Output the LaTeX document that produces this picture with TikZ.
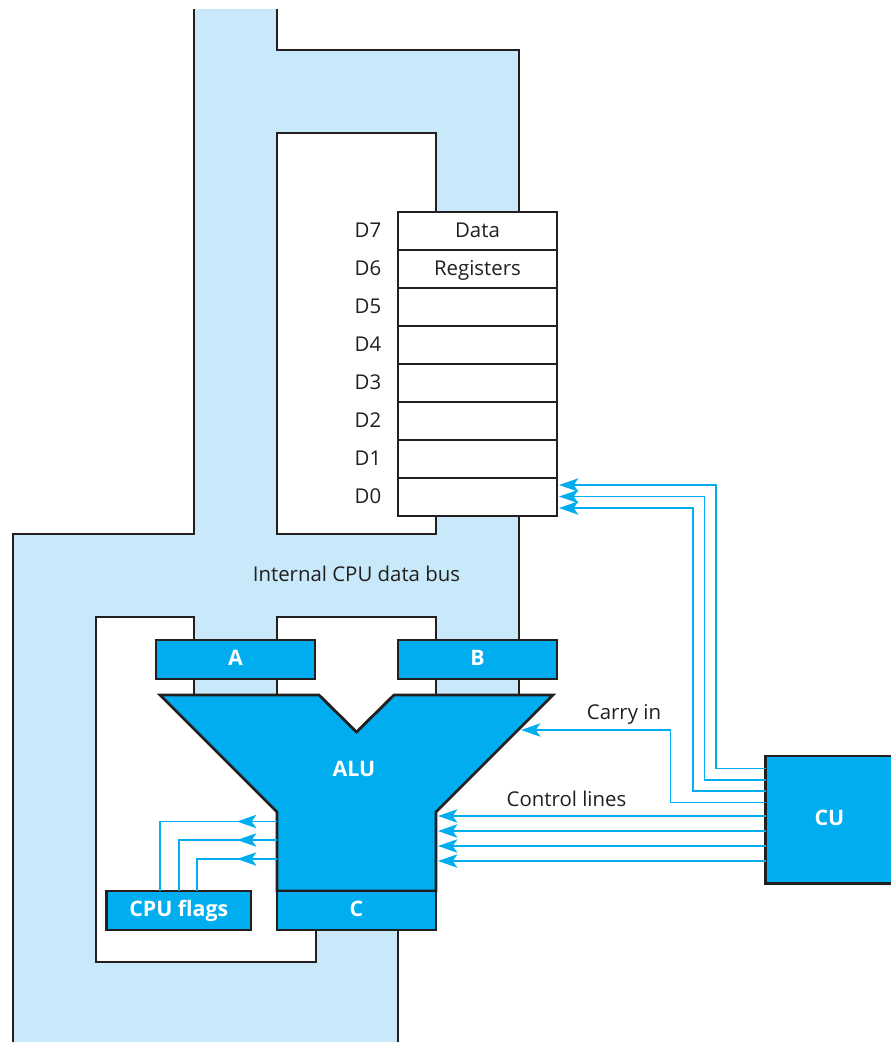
\documentclass[tikz,border=0pt]{standalone}
\usepackage{fontspec}
\setmainfont{Open Sans}
\usetikzlibrary{arrows.meta}
\definecolor{busblue}{HTML}{C7E9F9}
\definecolor{cyanfill}{HTML}{00AEEF}
\definecolor{inkline}{HTML}{231F20}
\tikzset{
  edge/.style={draw=inkline,line width=2.1pt,line join=miter},
  reg/.style={edge,fill=white,minimum width=119.25pt,minimum height=28.5pt,inner sep=0pt,outer sep=0pt,text height=11pt,text depth=1.5pt,font=\fontsize{15.3pt}{17pt}\selectfont,text=inkline},
  unitbox/.style={edge,fill=cyanfill,inner sep=0pt,outer sep=0pt,text=white,text height=11pt,text depth=2pt,font=\fontsize{16pt}{18pt}\selectfont\bfseries},
  lab/.style={inner sep=0pt,text=inkline,text height=11pt,text depth=3pt,font=\fontsize{15.3pt}{17pt}\selectfont},
  sig/.style={draw=cyanfill,line width=1.4pt,line join=miter},
  tip/.style={-{Stealth[length=14.5pt,width=10pt,inset=3.5pt,fill=cyanfill]}},
}
\begin{document}
\begin{tikzpicture}[x=0.75pt,y=-0.75pt]
\useasboundingbox (0,0) rectangle (890,1042);
% data bus
\fill[busblue] (194,9) -- (277,9) -- (277,50) -- (519,50) -- (519,694) -- (398,800) -- (398,1042) -- (13,1042) -- (13,534) -- (194,534) -- cycle;
\fill[white] (277,133) rectangle (436,534);
\fill[white] (96,617) -- (194,617) -- (194,694) -- (277,694) -- (277,930) -- (316,930) -- (316,962) -- (96,962) -- cycle;
\fill[white] (277,617) rectangle (436,740);
\draw[edge] (194,9) -- (194,534) -- (13,534) -- (13,1042);
\draw[edge] (277,9) -- (277,50) -- (519,50) -- (519,694);
\draw[edge] (436,212) -- (436,133) -- (277,133) -- (277,534) -- (436,534) -- (436,516);
\draw[edge] (194,694) -- (194,617) -- (96,617) -- (96,962) -- (316,962) -- (316,930);
\draw[edge] (277,694) -- (277,617) -- (436,617) -- (436,694);
\draw[edge] (398,930) -- (398,1042);
% registers
\foreach \n/\y/\t in {7/231/Data,6/269/Registers,5/307/,4/345/,3/383/,2/421/,1/459/,0/497/}{
  \node[reg] (d\n) at (477.5,\y) {\t};
  \node[lab,anchor=east] (l\n) at (381.5,\y+1) {D\n};
}
\node[lab] (bus) at (356.5,576.5) {Internal CPU data bus};
% ALU
\node[unitbox,minimum width=119.25pt,minimum height=29.25pt] (A) at (235.5,659.5) {A};
\node[unitbox,minimum width=119.25pt,minimum height=29.25pt] (B) at (477.5,659.5) {B};
\draw[edge,fill=cyanfill] (160,695) -- (319,695) -- (356.5,732) -- (394,695) -- (553,695) -- (436,812) -- (436,891) -- (277,891) -- (277,812) -- cycle;
\node[text=white,font=\fontsize{16pt}{18pt}\selectfont\bfseries,inner sep=0pt] (alu) at (354,768.5) {ALU};
\node[unitbox,minimum width=119.25pt,minimum height=29.25pt] (C) at (356.5,910.5) {C};
\node[unitbox,minimum width=108.5pt,minimum height=29.25pt] (flags) at (178.75,910.5) {CPU flags};
\node[unitbox,minimum width=96pt,minimum height=95.6pt] (cu) at (829.5,819.75) {CU};
\coordinate (aluR) at (438,816);
\coordinate (aluL) at (277,816);
\coordinate (carry) at (521,730);
% flags lines
\foreach \x/\y in {160/821.5,179/840,197/859}{
  \draw[sig] (aluL |- 0,\y) -- (\x,\y) -- (flags.north -| \x,0);
  \draw[sig,tip] (aluL |- 0,\y) -- (237,\y);
}
% control lines
\foreach \y in {816,831,846,861}{
  \draw[sig,tip] (cu.west |- 0,\y) -- (aluR |- 0,\y);
}
% carry in
\draw[sig,tip] (cu.west |- 0,802.5) -- (670.5,802.5) -- (670.5,730) -- (carry);
% to registers
\draw[sig,tip] (cu.west |- 0,768.5) -- (716,768.5) -- (716,485) -- (559,485);
\draw[sig,tip] (cu.west |- 0,780) -- (704.5,780) -- (704.5,496.5) -- (559,496.5);
\draw[sig,tip] (cu.west |- 0,791) -- (693,791) -- (693,508) -- (559,508);
\node[lab] (cl) at (566.5,801) {Control lines};
\node[lab] (ci) at (624,714) {Carry in};
\end{tikzpicture}
\end{document}
